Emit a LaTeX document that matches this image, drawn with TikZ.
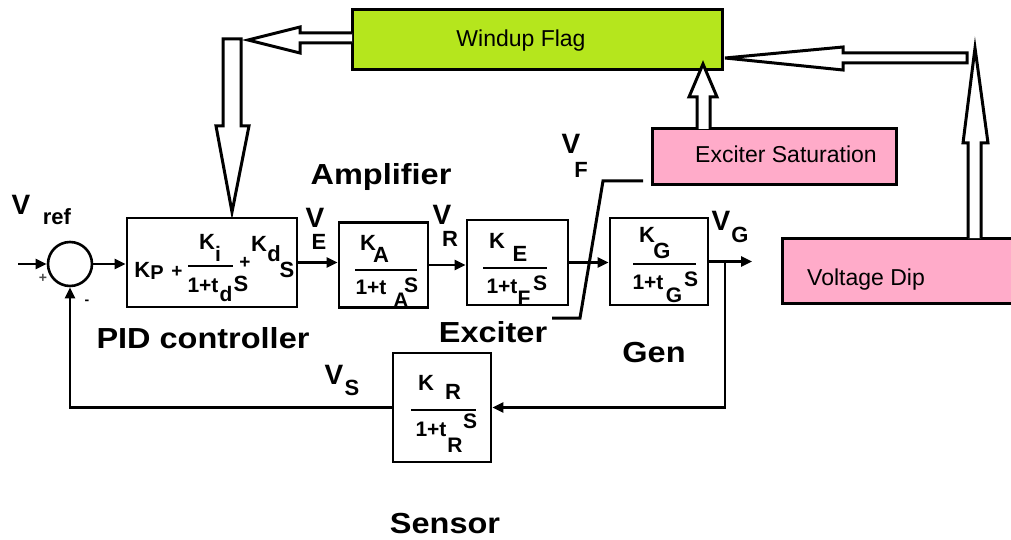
\documentclass[tikz,border=0pt]{standalone}
\usepackage{graphicx}
\usepackage{fontspec}
\setmainfont{Liberation Sans}
\usetikzlibrary{arrows.meta}
\definecolor{wgreen}{RGB}{181,230,29}
\definecolor{wpink}{RGB}{255,171,201}
\newcommand\widen[1]{\scalebox{1.12}[1]{#1}}
\begin{document}
\begin{tikzpicture}[x=1pt,y=-1pt,
  blk/.style={draw, line width=2.6pt, inner sep=0pt, fill=white},
  flagbox/.style={draw, line width=3pt, inner sep=0pt},
  bl/.style={font=\bfseries\fontsize{22}{22}\selectfont, inner sep=0pt},
  sb/.style={font=\bfseries\fontsize{21}{21}\selectfont, inner sep=0pt},
  vb/.style={font=\bfseries\fontsize{28}{28}\selectfont, inner sep=0pt},
  vsub/.style={font=\bfseries\fontsize{22}{22}\selectfont, inner sep=0pt},
  big/.style={font=\bfseries\fontsize{29}{29}\selectfont, inner sep=0pt, anchor=base},
  boxt/.style={font=\fontsize{23}{23}\selectfont, inner sep=0pt, anchor=base},
  sign/.style={font=\bfseries\fontsize{19}{19}\selectfont, inner sep=0pt},
  small/.style={font=\bfseries\fontsize{14}{14}\selectfont, inner sep=0pt},
  conn/.style={line width=2.5pt, -{Triangle[length=11pt,width=10pt]}},
  hol/.style={draw, line width=3pt, fill=white, line join=miter},
  fbar/.style={line width=1.8pt}]
\useasboundingbox (0,0) rectangle (1011,540);
\clip (0,0) rectangle (1011,540);

% ---- upper boxes ----
\node[flagbox, fill=wgreen, minimum width=370pt, minimum height=60pt] (wind) at (537,40) {};
\node[boxt] (windt) at (521,47) {Windup Flag};
\node[flagbox, fill=wpink, minimum width=244pt, minimum height=56pt] (esat) at (774,157) {};
\node[boxt] (esatt) at (786,163) {Exciter Saturation};
\node[flagbox, fill=wpink, minimum width=240pt, minimum height=65pt] (vdip) at (902,270.5) {};
\node[boxt] (vdipt) at (866,285) {Voltage Dip};

% ---- hollow arrows ----
\draw[hol] (352,33) -- (300,33) -- (300,27) -- (248,40) -- (300,53) -- (300,43) -- (352,43);
\draw[hol] (223,39) -- (241,39) -- (241,126) -- (249,126) -- (232,212) -- (216,126) -- (223,126) -- cycle;
\draw[hol] (697,129) -- (697,97) -- (689,97) -- (703,64) -- (717,97) -- (710,97) -- (710,129);
\draw[hol] (967,53) -- (843,53) -- (843,47) -- (725,58) -- (843,70) -- (843,63) -- (967,63) -- cycle;
\draw[hol] (968,238) -- (968,143) -- (963,143) -- (975,48) -- (988,143) -- (981,143) -- (981,238);

% ---- blocks ----
\node[draw, circle, line width=2.6pt, minimum size=44pt, inner sep=0pt] (sum) at (70,264) {};
\node[blk, minimum width=170pt, minimum height=89pt] (pid) at (212,262.5) {};
\node[blk, minimum width=89pt, minimum height=85pt] (amp) at (383.5,265) {};
\node[blk, minimum width=101pt, minimum height=85pt] (exc) at (517.5,262.5) {};
\node[blk, minimum width=98pt, minimum height=87pt] (gen) at (659,261.5) {};
\node[blk, minimum width=98pt, minimum height=109pt] (sens) at (442,407.5) {};

% ---- signal connectors ----
\coordinate (in) at (18,264);
\draw[conn] (in) -- (sum.west);
\draw[conn] (sum.east) -- (sum.east -| pid.west);
\draw[conn] (pid.east) -- (pid.east -| amp.west);
\draw[conn] (amp.east) -- (amp.east -| exc.west);
\draw[conn] (exc.east) -- (exc.east -| gen.west);
\coordinate (out) at (752,261.5);
\draw[conn] (gen.east) -- (out);
\coordinate (br) at (725,261.5);
\draw[conn] (br) |- (sens.east);
\draw[conn] (sens.west) -| (sum.south);

% ---- exciter pointer line ----
\coordinate (e1) at (643,181);
\coordinate (e2) at (603,181);
\coordinate (e3) at (580,318);
\coordinate (e4) at (552,318);
\draw[line width=3pt] (e1) -- (e2) -- (e3) -- (e4);

% ---- summing junction labels ----
\node[vb] (vref) at (21,205) {V};
\node[vsub] (vrefs) at (57,217) {ref};
\node[small, text=black!70] (splus) at (43,278) {+};
\node[small] (sminus) at (87,302) {-};

% ---- PID contents ----
\node[bl] (kp) at (149,271) {K\raisebox{-2pt}{\fontsize{20}{20}\selectfont P}};
\node[sign] (p1) at (177,272) {+};
\draw[fbar] (188,266) -- (233,266);
\node[bl] (ki) at (207,242) {K};
\node[sb] (kis) at (218,254) {i};
\node[sb] (pd1) at (203,285) {1+t};
\node[sb] (pd2) at (226,294) {d};
\node[bl] (pd3) at (241,284) {S};
\node[sign] (p2) at (245,263) {+};
\node[bl] (kd) at (259,244) {K};
\node[bl] (kds) at (274,254) {d};
\node[bl] (kdS) at (287,270) {S};

% ---- Amplifier contents ----
\node[bl] (ka) at (368,243) {K};
\node[bl] (kas) at (381,255) {A};
\draw[fbar] (355,270) -- (417,270);
\node[sb] (ad1) at (371,287) {1+t};
\node[sb] (ad2) at (401,300) {A};
\node[sb] (ad3) at (411,285) {S};

% ---- Exciter contents ----
\node[bl] (ke) at (497,241) {K};
\node[bl] (kes) at (520,254) {E};
\draw[fbar] (483,268) -- (547,268);
\node[sb] (ed1) at (502,286) {1+t};
\node[sb] (ed2) at (524,298) {F};
\node[sb] (ed3) at (540,283) {S};

% ---- Gen contents ----
\node[bl] (kg) at (647,235) {K};
\node[bl] (kgs) at (662,251) {G};
\draw[fbar] (633,264) -- (696,264);
\node[sb] (gd1) at (648,282) {1+t};
\node[sb] (gd2) at (674,295) {G};
\node[sb] (gd3) at (691,279) {S};

% ---- Sensor contents ----
\node[bl] (kr) at (426,383) {K};
\node[bl] (krs) at (453,392) {R};
\draw[fbar] (411,410) -- (476,410);
\node[sb] (rd1) at (431,429) {1+t};
\node[sb] (rd2) at (470,421) {S};
\node[sb] (rd3) at (455,445) {R};

% ---- signal labels ----
\node[vb] (ve) at (315,218) {V};
\node[vsub] (ves) at (319,242) {E};
\node[vb] (vr) at (442,215) {V};
\node[vsub] (vrs) at (450,239) {R};
\node[vb] (vf) at (571,144) {V};
\node[vsub] (vfs) at (581,170) {F};
\node[vb] (vg) at (721,221) {V};
\node[vsub] (vgs) at (740,235) {G};
\node[vb] (vs) at (334,375) {V};
\node[vsub] (vss) at (352,388) {S};

% ---- block titles ----
\node[big] (tamp) at (381,185) {\widen{Amplifier}};
\node[big] (tpid) at (203,348) {\widen{PID controller}};
\node[big] (texc) at (493,342) {\widen{Exciter}};
\node[big] (tgen) at (654,362) {\widen{Gen}};
\node[big] (tsen) at (445,533) {\widen{Sensor}};
\end{tikzpicture}
\end{document}
